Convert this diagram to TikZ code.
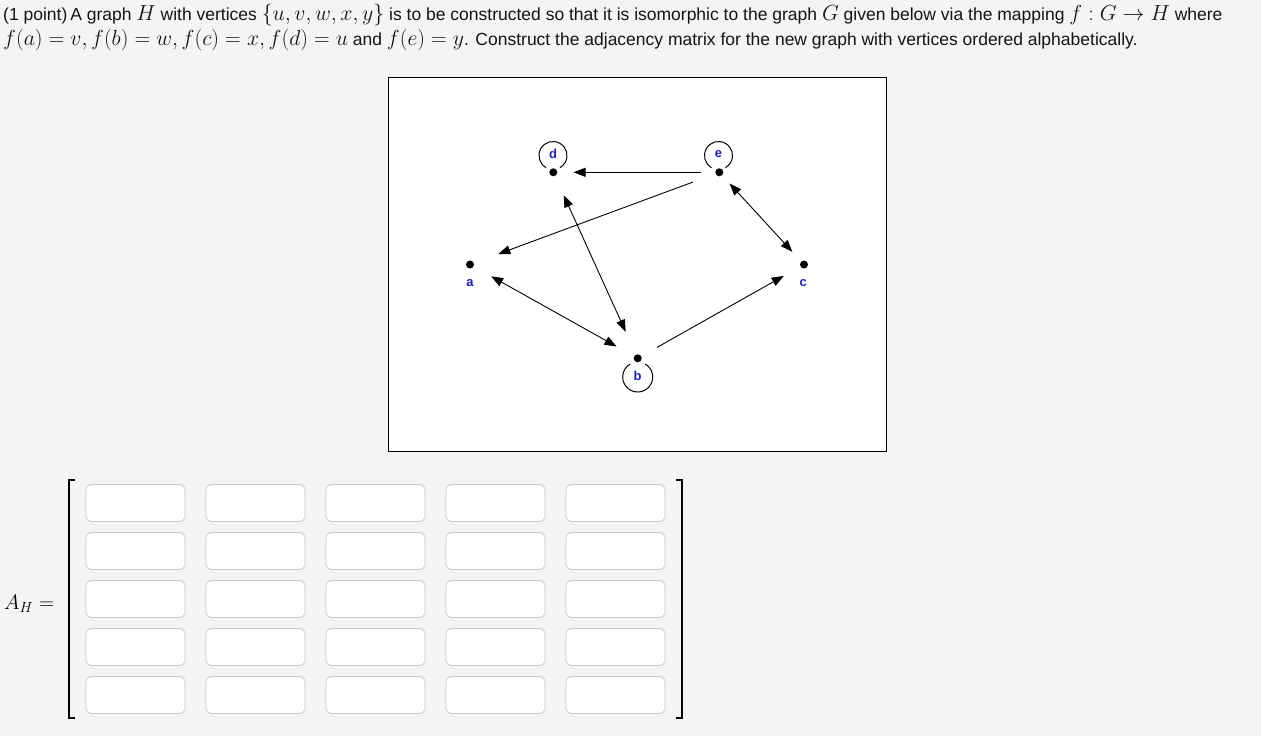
\RequirePackage{fix-cm}
\documentclass[tikz,border=0pt]{standalone}
\usepackage{fontspec}
\setmainfont{Liberation Sans}
\usetikzlibrary{arrows.meta}
\definecolor{bg}{RGB}{244,244,244}
\definecolor{lbl}{RGB}{30,30,200}
\definecolor{cellb}{RGB}{200,200,200}
\definecolor{txt}{RGB}{20,20,20}
\newcommand{\mm}[1]{{\fontsize{21.8}{20}\selectfont$#1$}}
\tikzset{
  vdot/.style={circle,fill=black,inner sep=0pt,minimum size=8pt},
  vlab/.style={text=lbl,font=\fontsize{13}{13}\selectfont\bfseries,inner sep=0pt},
  edge/.style={line width=0.9pt},
  tip/.style={-{Triangle[length=12pt,width=9pt]}},
  bitip/.style={{Triangle[length=12pt,width=9pt]}-{Triangle[length=12pt,width=9pt]}},
  loopc/.style={line width=1pt},
  cell/.style={draw=cellb,fill=white,rounded corners=5pt,minimum width=99pt,minimum height=37pt,line width=0.8pt},
  brk/.style={line width=2pt},
  para/.style={anchor=base west,inner sep=0pt,text=txt,font=\fontsize{17.5}{20}\selectfont}
}
\begin{document}
\begin{tikzpicture}[x=1pt,y=-1pt]
\fill[bg] (0,0) rectangle (1261,736);
\useasboundingbox (0,0) rectangle (1261,736);
% text
\node[para] (l1) at (3,20) {(1 point)\,A graph \mm{H} with vertices \mm{\{u,v,w,x,y\}} is to be constructed so that it is isomorphic to the graph \mm{G} given below via the mapping \mm{f:G\to H} where};
\node[para] (l2) at (3,45) {\mm{f(a)=v, f(b)=w, f(c)=x, f(d)=u} and \mm{f(e)=y}. Construct the adjacency matrix for the new graph with vertices ordered alphabetically.};
% graph box
\node[draw=black,fill=white,line width=1pt,minimum width=498pt,minimum height=374pt,inner sep=0pt] (box) at (637,264) {};
% vertices
\node[vdot] (a) at (470,264.5) {};
\node[vdot] (b) at (637.7,358.3) {};
\node[vdot] (c) at (804,264.5) {};
\node[vdot] (d) at (553.3,172.3) {};
\node[vdot] (e) at (719.3,172.3) {};
\node[vlab] (la) at (470,283) {a};
\node[vlab] (lb) at (637.7,376) {b};
\node[vlab] (lc) at (803.3,283) {c};
\node[vlab] (ld) at (553,154) {d};
\node[vlab] (le) at (718.5,154) {e};
% loops
\draw[loopc] ([shift={(120:14)}]553,155.5) arc[start angle=120,end angle=420,radius=14];
\draw[loopc] ([shift={(120:14)}]718.5,155.5) arc[start angle=120,end angle=420,radius=14];
\draw[loopc] ([shift={(-60:15)}]637.7,377) arc[start angle=-60,end angle=240,radius=15];
% edges
\draw[edge,tip,shorten <=14pt,shorten >=16pt] (e) -- (d);
\draw[edge,tip,shorten <=24pt,shorten >=26pt] (e) -- (a);
\draw[edge,bitip,shorten <=11pt,shorten >=13pt] (e) -- (c);
\draw[edge,bitip,shorten <=20pt,shorten >=20pt] (a) -- (b);
\draw[edge,tip,shorten <=18pt,shorten >=19pt] (b) -- (c);
\draw[edge,bitip,shorten <=21pt,shorten >=25pt] (d) -- (b);
% matrix
\node[inner sep=0pt,anchor=west] (ah) at (4,604) {\fontsize{21}{21}\selectfont$A_H=$};
\foreach \r in {1,...,5}{
  \foreach \c in {1,...,5}{
    \node[cell] (m\r\c) at ({135.5+120*(\c-1)},{503+48*(\r-1)}) {};
  }
}
\draw[brk] (75,480) -- (69,480) -- (69,718) -- (75,718);
\draw[brk] (676,480) -- (681.5,480) -- (681.5,718) -- (676,718);
\end{tikzpicture}
\end{document}
